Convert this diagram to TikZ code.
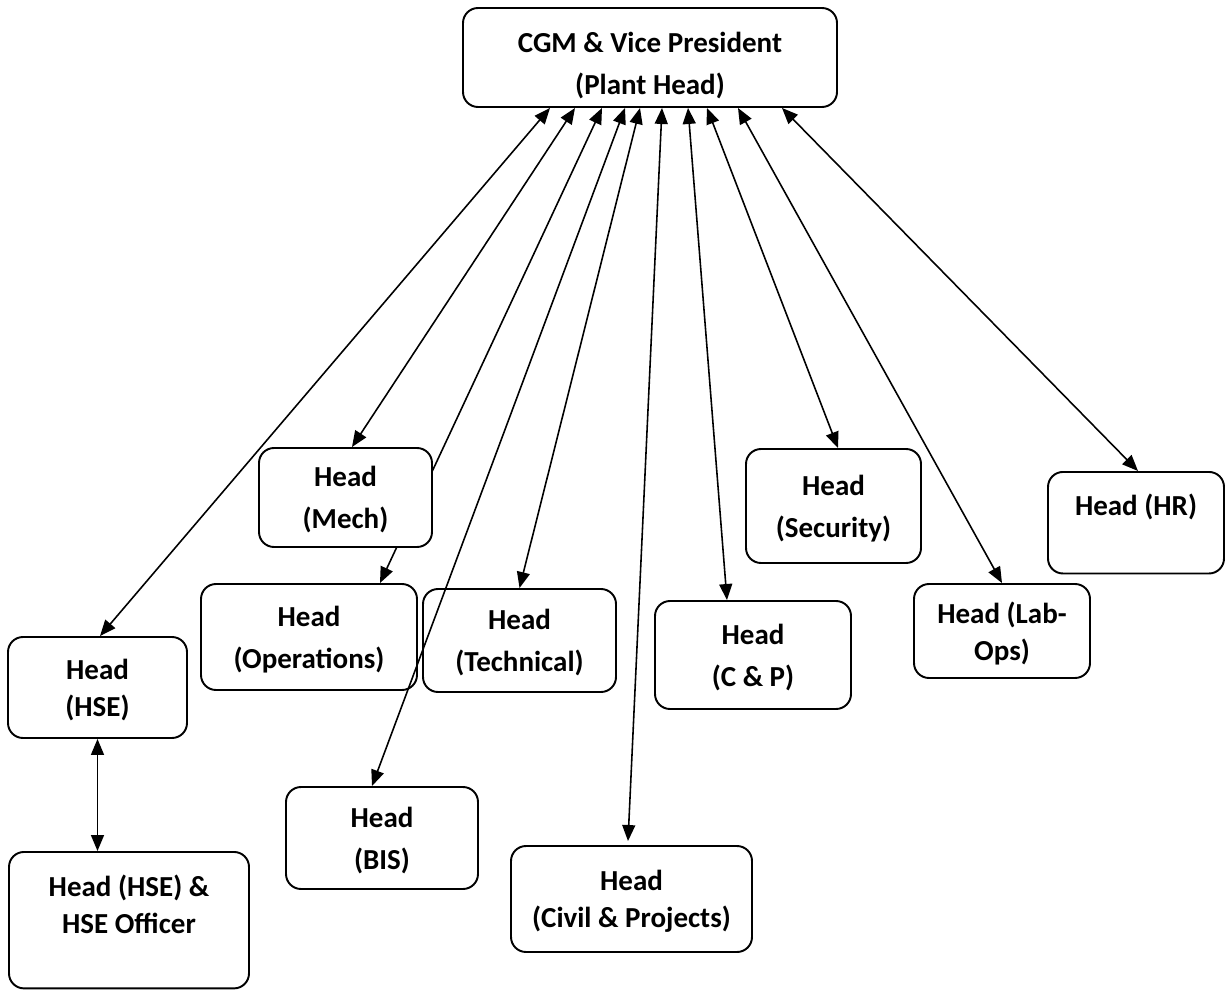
\documentclass[tikz,border=0pt]{standalone}
\usepackage{fontspec}
\setmainfont{Carlito}
\usetikzlibrary{arrows.meta}

\begin{document}
\begin{tikzpicture}[
    box/.style={draw, rounded corners=0.3cm, line width=1.1pt, align=center,
        font=\fontsize{16.5}{21}\selectfont\bfseries, inner sep=0.1cm, text depth=0pt},
    link/.style={{Triangle[length=0.32cm, width=0.26cm]}-{Triangle[length=0.32cm, width=0.26cm]},
        line width=0.9pt}
]

    % --- Page frame ---
    \useasboundingbox (0,0) rectangle (24.5,-19.98);

    % --- Boxes ---
    \node[box, minimum width=7.48cm, minimum height=1.98cm, text height=1.64cm, text depth=0.14cm]
        (ceo) at (13.0,-1.15) {CGM \& Vice President\\[3pt](Plant Head)};
    \node[box, minimum width=4.32cm, minimum height=2.12cm] (ops) at (6.18,-12.74)
        {Head\\[3pt](Operations)};
    \node[box, minimum width=3.86cm, minimum height=2.06cm] (tech) at (10.39,-12.81)
        {Head\\[3pt](Technical)};
    \node[box, minimum width=3.58cm, minimum height=2.02cm] (hse) at (1.95,-13.75)
        {Head\\(HSE)};
    \node[box, minimum width=3.84cm, minimum height=2.04cm] (bis) at (7.64,-16.76)
        {Head\\[3pt](BIS)};
    \node[box, minimum width=4.82cm, minimum height=2.12cm] (civil) at (12.63,-17.98)
        {Head\\(Civil \& Projects)};
    \node[box, minimum width=3.92cm, minimum height=2.16cm] (cp) at (15.06,-13.10)
        {Head\\[3pt](C \& P)};
    \node[box, minimum width=3.50cm, minimum height=2.28cm] (sec) at (16.67,-10.12)
        {Head\\[3pt](Security)};
    \node[box, minimum width=3.52cm, minimum height=1.88cm] (lab) at (20.04,-12.62)
        {Head (Lab-\\Ops)};
    % text sits in the upper part of these two
    \node[box, anchor=north, minimum width=3.52cm, inner ysep=0.45cm, text depth=0.70cm]
        (hr) at (22.72,-9.42) {Head (HR)};
    \node[box, anchor=north, minimum width=4.80cm, inner ysep=0.46cm, text depth=0.64cm]
        (off) at (2.58,-17.02) {Head (HSE) \&\\HSE Officer};

    % --- Connectors ---
    % Operations line runs behind the Mech box, so Mech comes after it
    \draw[link] ([xshift=-0.96cm]ceo.south) -- ([xshift=1.42cm]ops.north);
    \node[box, fill=white, minimum width=3.46cm, minimum height=1.98cm] (mech) at (6.91,-9.95)
        {Head\\[3pt](Mech)};

    \draw[link] ([xshift=-2.00cm]ceo.south) -- ([xshift=0.05cm]hse.north);
    \draw[link] ([xshift=-1.50cm]ceo.south) -- ([xshift=0.13cm]mech.north);
    \draw[link] ([xshift=-0.50cm]ceo.south) -- ([xshift=-0.20cm]bis.north);
    \draw[link] ([xshift=-0.20cm]ceo.south) -- (tech.north);
    \draw[link] ([xshift=0.24cm]ceo.south) -- ([xshift=-0.07cm, yshift=0.08cm]civil.north);
    \draw[link] ([xshift=0.76cm]ceo.south) -- ([xshift=-0.52cm]cp.north);
    \draw[link] ([xshift=1.14cm]ceo.south) -- ([xshift=0.09cm]sec.north);
    \draw[link] ([xshift=1.76cm]ceo.south) -- (lab.north);
    \draw[link] ([xshift=2.64cm]ceo.south) -- ([xshift=0.04cm]hr.north);

    % HSE to its officer
    \draw[link] (hse.south) -- (hse.south |- off.north);

\end{tikzpicture}
\end{document}
